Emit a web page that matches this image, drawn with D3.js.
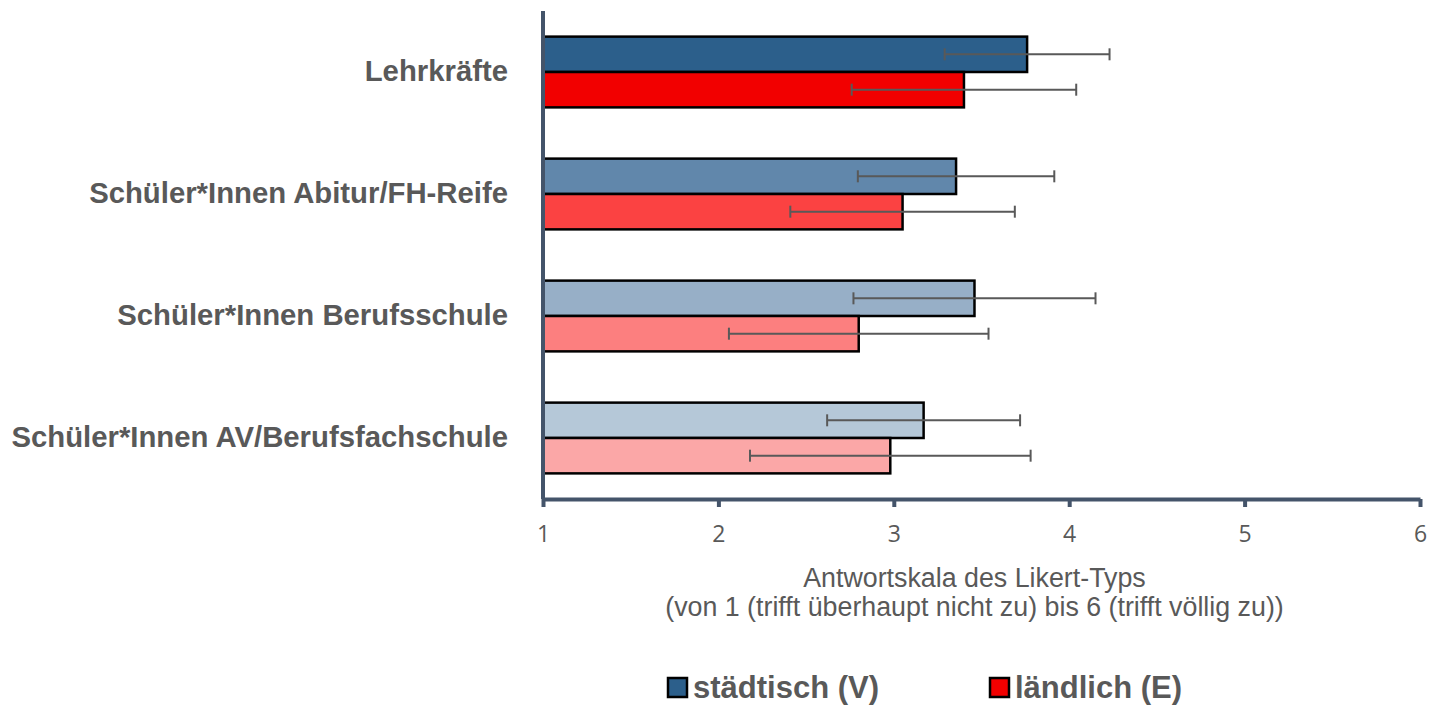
<!DOCTYPE html>
<html>
<head>
<meta charset="utf-8">
<script src="https://cdn.jsdelivr.net/npm/d3@7"></script>
<style>
  html, body { margin: 0; padding: 0; background: #fff; }
  svg { display: block; }
</style>
</head>
<body>
<svg id="chart" width="1441" height="707"></svg>
<script>
// ---- data ----
const categories = [
  "Lehrkräfte",
  "Schüler*Innen Abitur/FH-Reife",
  "Schüler*Innen Berufsschule",
  "Schüler*Innen AV/Berufsfachschule"
];
const seriesNames = ["städtisch (V)", "ländlich (E)"];
const staedtisch = [3.76, 3.355, 3.46, 3.17];
const laendlich = [3.40, 3.05, 2.80, 2.98];
const sdStaedtisch = [0.47, 0.56, 0.69, 0.55];
const sdLaendlich = [0.64, 0.64, 0.74, 0.80];
const tickValues = [1, 2, 3, 4, 5, 6];
const axisTitle = ["Antwortskala des Likert-Typs", "(von 1 (trifft überhaupt nicht zu) bis 6 (trifft völlig zu))"];

// ---- styles ----
const blueShades = ["#2C5F8B", "#6187AB", "#97AFC7", "#B5C8D8"];
const redShades = ["#F20000", "#FB4242", "#FC7F7F", "#FBA7A7"];
const axisColor = "#44546A";
const textColor = "#595959";

const svg = d3.select("#chart");

const x = d3.scaleLinear().domain([1, 6]).range([543, 1420]);
const y = d3.scaleBand().domain(categories).range([11, 499])
  .paddingInner(0.42).paddingOuter(0.21);
const ySub = d3.scaleBand().domain(seriesNames).range([0, y.bandwidth()]);

const rows = categories.map((c, i) => ({
  cat: c, i,
  series: [
    { name: seriesNames[0], v: staedtisch[i], sd: sdStaedtisch[i], fill: blueShades[i] },
    { name: seriesNames[1], v: laendlich[i], sd: sdLaendlich[i], fill: redShades[i] }
  ]
}));

// bars
const g = svg.append("g");
const grp = g.selectAll("g.cat").data(rows).join("g")
  .attr("class", "cat")
  .attr("transform", d => `translate(0,${y(d.cat)})`);

grp.selectAll("rect").data(d => d.series).join("rect")
  .attr("x", x(1))
  .attr("y", d => ySub(d.name))
  .attr("width", d => x(d.v) - x(1))
  .attr("height", ySub.bandwidth())
  .attr("fill", d => d.fill)
  .attr("stroke", "#000")
  .attr("stroke-width", 2.5);

// error bars
const eb = grp.selectAll("g.err").data(d => d.series).join("g").attr("class", "err")
  .attr("stroke", "#595959").attr("stroke-width", 2);
eb.append("line")
  .attr("x1", d => x(d.v - d.sd)).attr("x2", d => x(d.v + d.sd))
  .attr("y1", d => ySub(d.name) + ySub.bandwidth() / 2)
  .attr("y2", d => ySub(d.name) + ySub.bandwidth() / 2);
eb.append("line")
  .attr("x1", d => x(d.v - d.sd)).attr("x2", d => x(d.v - d.sd))
  .attr("y1", d => ySub(d.name) + ySub.bandwidth() / 2 - 6)
  .attr("y2", d => ySub(d.name) + ySub.bandwidth() / 2 + 6);
eb.append("line")
  .attr("x1", d => x(d.v + d.sd)).attr("x2", d => x(d.v + d.sd))
  .attr("y1", d => ySub(d.name) + ySub.bandwidth() / 2 - 6)
  .attr("y2", d => ySub(d.name) + ySub.bandwidth() / 2 + 6);

// y axis (line + labels)
const yAxis = d3.axisLeft(y).tickSize(0).tickPadding(35);
const yg = svg.append("g").attr("transform", `translate(${x(1)},0)`).call(yAxis);
yg.select(".domain").attr("stroke", axisColor).attr("stroke-width", 4)
  .attr("d", `M0,${11}V${499}`);
yg.selectAll("text")
  .attr("fill", textColor)
  .attr("font-family", "'Liberation Sans', Arial, sans-serif")
  .attr("font-weight", "bold")
  .attr("font-size", 29.3);

// x axis
const xAxis = d3.axisBottom(x).tickValues(tickValues).tickFormat(d3.format("d"))
  .tickSize(8).tickSizeOuter(0).tickPadding(19);
const xg = svg.append("g").attr("transform", `translate(0,499)`).call(xAxis);
xg.select(".domain").attr("stroke", axisColor).attr("stroke-width", 4);
xg.selectAll(".tick line").attr("stroke", axisColor).attr("stroke-width", 4);
xg.selectAll("text")
  .attr("fill", textColor)
  .attr("font-family", "'Open Sans', 'Liberation Sans', sans-serif")
  .attr("font-size", 23);

// axis title
const tx = 974.5;
svg.append("text")
  .attr("text-anchor", "middle")
  .attr("fill", textColor)
  .attr("font-family", "'Liberation Sans', Arial, sans-serif")
  .attr("font-size", 26.8)
  .selectAll("tspan").data(axisTitle).join("tspan")
  .attr("x", tx)
  .attr("y", (d, i) => 587 + i * 29)
  .text(d => d);

// legend
const legendItems = [
  { name: seriesNames[0], fill: blueShades[0], x: 667 },
  { name: seriesNames[1], fill: redShades[0], x: 989 }
];
const lg = svg.selectAll("g.leg").data(legendItems).join("g").attr("class", "leg")
  .attr("transform", d => `translate(${d.x},678)`);
lg.append("rect").attr("x", 1).attr("y", 0).attr("width", 19).attr("height", 19)
  .attr("fill", d => d.fill).attr("stroke", "#000").attr("stroke-width", 2.5);
lg.append("text").attr("x", 26).attr("y", 20)
  .attr("fill", textColor)
  .attr("font-family", "'Liberation Sans', Arial, sans-serif")
  .attr("font-weight", "bold")
  .attr("font-size", 31)
  .text(d => d.name);
</script>
</body>
</html>
